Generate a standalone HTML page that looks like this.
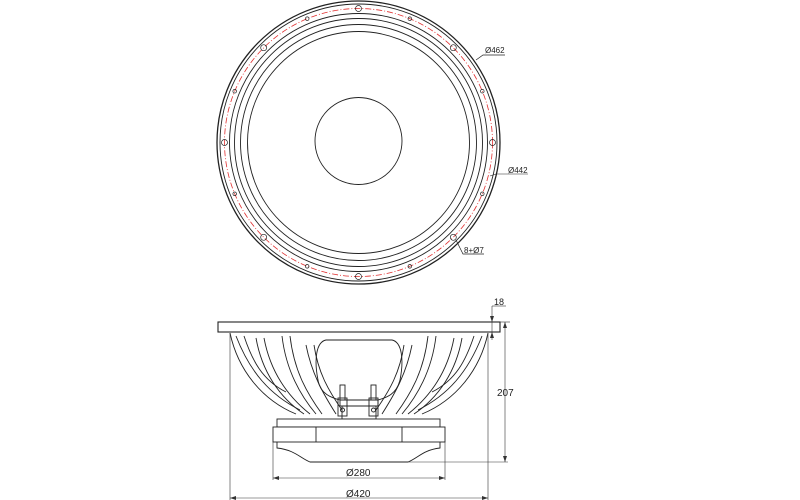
<!DOCTYPE html>
<html><head><meta charset="utf-8"><style>
html,body{margin:0;padding:0;background:#fff;}
svg{display:block;}
text{font-family:"Liberation Sans",sans-serif;fill:#222;}
</style></head><body>
<svg width="800" height="500" viewBox="0 0 800 500" xmlns="http://www.w3.org/2000/svg">
<g fill="none" stroke="#222" stroke-width="0.9">
<circle cx="358.5" cy="142.5" r="141.5" stroke-width="1.3"/>
<circle cx="358.5" cy="142.5" r="138.5"/>
<circle cx="358.5" cy="142.5" r="129"/>
<circle cx="358.5" cy="142.5" r="124"/>
<circle cx="358.5" cy="142.5" r="118"/>
<circle cx="358.5" cy="142.5" r="111"/>
<circle cx="358.5" cy="141" r="43.5"/>
<circle cx="358.5" cy="142.5" r="134" stroke="#e03030" stroke-width="0.8" stroke-dasharray="6,2,1,2"/>
<g stroke-width="0.7">
<circle cx="358.5" cy="8.5" r="3"/><circle cx="358.5" cy="276.5" r="3"/>
<circle cx="224.5" cy="142.5" r="3"/><circle cx="492.5" cy="142.5" r="3"/>
<circle cx="263.7" cy="47.7" r="3"/><circle cx="453.3" cy="47.7" r="3"/>
<circle cx="263.7" cy="237.3" r="3"/><circle cx="453.3" cy="237.3" r="3"/>
<circle cx="307.2" cy="18.7" r="1.8"/><circle cx="409.8" cy="18.7" r="1.8"/>
<circle cx="234.7" cy="91.2" r="1.8"/><circle cx="482.3" cy="91.2" r="1.8"/>
<circle cx="234.7" cy="193.8" r="1.8"/><circle cx="482.3" cy="193.8" r="1.8"/>
<circle cx="307.2" cy="266.3" r="1.8"/><circle cx="409.8" cy="266.3" r="1.8"/>
</g>
<polyline points="476,60 483,55 505,55" stroke-width="0.7"/>
<polyline points="490,176 496,174 528,174" stroke-width="0.6"/>
<polyline points="456,240 463,254 484,254" stroke-width="0.7"/>
</g>
<text x="485" y="53" font-size="8">Ø462</text>
<text x="508" y="173" font-size="8" fill="#555">Ø442</text>
<text x="464" y="253" font-size="8">8+Ø7</text>

<g fill="none" stroke="#222" stroke-width="0.9">
<rect x="218" y="322" width="282" height="10" fill="#fff" stroke-width="1.1"/>
<path d="M230,333 C238,370 262,400 296,414"/>
<path d="M488,333 C480,370 456,400 422,414"/>
<path d="M236,336 C250,372 270,395 300,410"/>
<path d="M482,336 C468,372 448,395 418,410"/>
<path d="M244,336 C252,360 262,380 286,392"/>
<path d="M474,336 C466,360 456,380 432,392"/>
<path d="M282,336 C286,370 300,395 316,414 M290,336 C294,370 306,392 322,414"/>
<path d="M436,336 C432,370 418,395 402,414 M428,336 C424,370 412,392 396,414"/>
<path d="M306,345 C312,375 324,395 336,414 M314,345 C318,372 328,390 342,410"/>
<path d="M412,345 C406,375 394,395 382,414 M404,345 C400,372 390,390 376,410"/>
<path d="M256,338 C262,372 280,398 304,414 M264,338 C270,370 286,395 310,414"/>
<path d="M462,338 C456,372 438,398 414,414 M454,338 C448,370 432,395 408,414"/>
<path d="M326,340 L392,340 C402,342 404,360 400,380 C396,396 384,398 378,400 L340,400 C332,398 320,394 318,380 C314,360 316,342 326,340 Z"/>
<rect x="340" y="400" width="38" height="6"/>
<rect x="342" y="406" width="34" height="13"/>
<rect x="340" y="385" width="5" height="15"/><rect x="371" y="385" width="5" height="15"/>
<rect x="338" y="398" width="9" height="18"/><rect x="369" y="398" width="9" height="18"/>
<circle cx="342.5" cy="410" r="2"/><circle cx="373.5" cy="410" r="2"/>
<rect x="277" y="419" width="163" height="8" fill="#fff"/>
<rect x="273" y="427" width="172" height="15" fill="#fff"/>
<line x1="316" y1="427" x2="316" y2="442"/><line x1="402" y1="427" x2="402" y2="442"/>
<path d="M277,442 L277,448 C295,450 300,458 310,462 L408,462 C418,458 423,450 440,448 L440,442"/>
</g>
<g fill="none" stroke="#333" stroke-width="0.6">
<line x1="230" y1="333" x2="230" y2="500"/><line x1="488" y1="333" x2="488" y2="500"/>
<line x1="273" y1="442" x2="273" y2="480"/><line x1="445" y1="442" x2="445" y2="480"/>
<line x1="273" y1="478" x2="445" y2="478"/>
<line x1="230" y1="498" x2="488" y2="498"/>
<line x1="408" y1="462" x2="508" y2="462"/>
<line x1="500" y1="322" x2="510" y2="322"/>
<line x1="505" y1="322" x2="505" y2="462"/>
<line x1="492" y1="306" x2="492" y2="340"/>
<line x1="492" y1="306" x2="506" y2="306"/>
</g>
<g fill="#333">
<path d="M273,478 l6,-2 v4z M445,478 l-6,-2 v4z M230,498 l6,-2 v4z M488,498 l-6,-2 v4z"/>
<path d="M505,322 l-2,6 h4z M505,462 l-2,-6 h4z M492,322 l-2,-6 h4z M492,332 l-2,6 h4z"/>
</g>
<text x="346" y="476" font-size="10">Ø280</text>
<text x="346" y="497" font-size="10">Ø420</text>
<text x="497" y="396" font-size="10">207</text>
<text x="494" y="305" font-size="9">18</text>
</svg>
</body></html>
